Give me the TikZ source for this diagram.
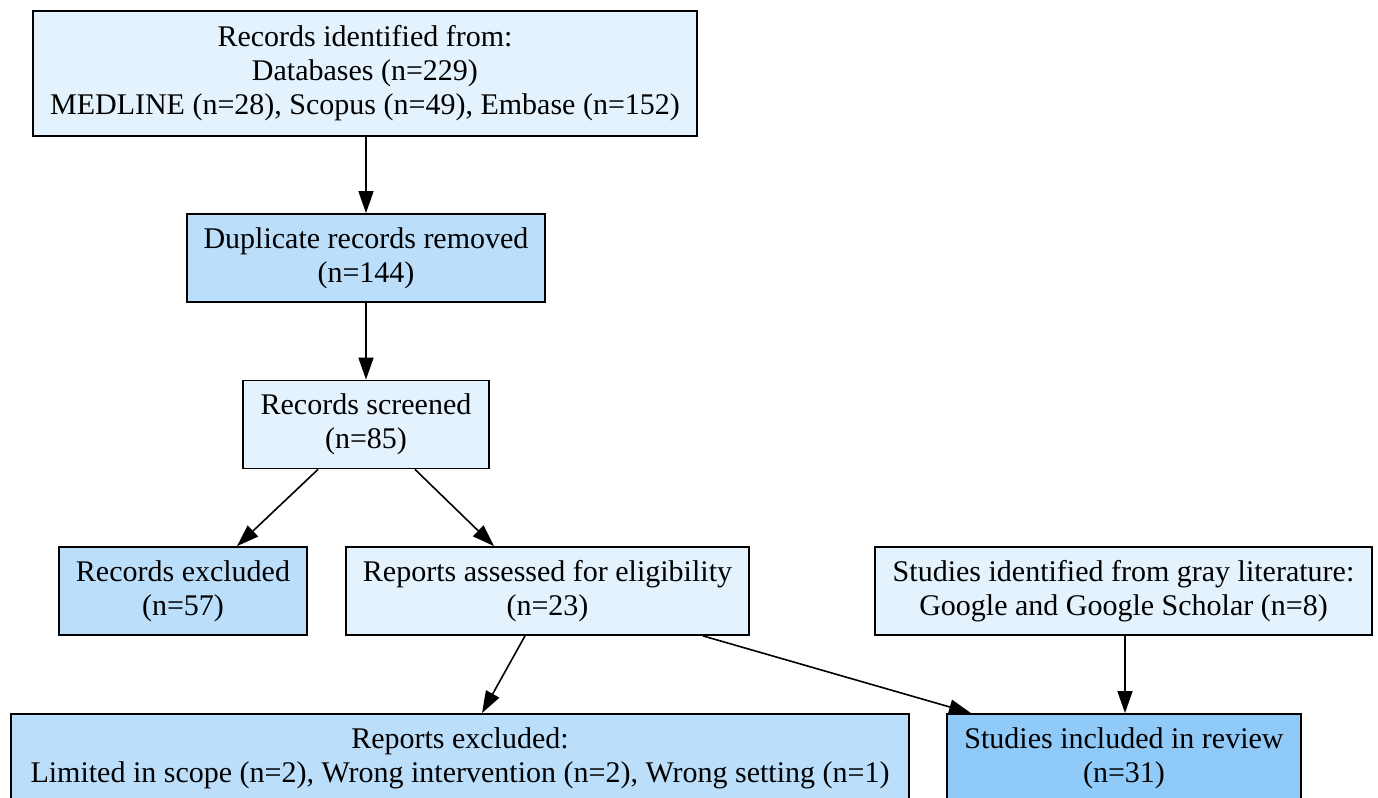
\documentclass[tikz,border=0pt]{standalone}
\usepackage{fontspec}
\setmainfont{Liberation Serif}
\usetikzlibrary{arrows.meta}

\definecolor{boxlight}{HTML}{E3F2FD}
\definecolor{boxmid}{HTML}{BBDEFB}
\definecolor{boxdark}{HTML}{90CAF9}

\begin{document}
\begin{tikzpicture}[x=0.5pt, y=-0.5pt]
\tikzset{
   >={Triangle[length=11pt, width=7.5pt]},
   box/.style = {rectangle, draw, line width = 0.9pt, align = center, inner sep = 0pt,
                 minimum height = 44pt, font = \fontsize{15}{17}\selectfont},
   box_light/.style = {box, fill = boxlight},
   box_mid/.style = {box, fill = boxmid},
   box_dark/.style = {box, fill = boxdark},
   link/.style = {->, line width = 0.8pt}
 }
  \useasboundingbox (0,0) rectangle (1378,798);

  \node [box_light, minimum width = 332pt, minimum height = 62.5pt] (identified) at (365,73.5)
        {Records identified from:\\Databases (n=229)\\MEDLINE (n=28), Scopus (n=49), Embase (n=152)};
  \node [box_mid, minimum width = 179pt] (duplicates) at (366,258)
        {Duplicate records removed\\(n=144)};
  \node [box_light, minimum width = 123pt] (screened) at (366,424.5)
        {Records screened\\(n=85)};

  \node [box_mid, minimum width = 124pt] (rec_excluded) at (183,591)
        {Records excluded\\(n=57)};
  \node [box_light, minimum width = 201.5pt] (assessed) at (547.5,591)
        {Reports assessed for eligibility\\(n=23)};
  \node [box_light, minimum width = 248.5pt] (gray) at (1123.5,591)
        {Studies identified from gray literature:\\Google and Google Scholar (n=8)};

  \node [box_mid, minimum width = 449pt] (rep_excluded) at (460,758)
        {Reports excluded:\\Limited in scope (n=2), Wrong intervention (n=2), Wrong setting (n=1)};
  \node [box_dark, minimum width = 177pt] (included) at (1124,758)
        {Studies included in review\\(n=31)};

  \draw [link] (duplicates.north |- identified.south) -- (duplicates);
  \draw [link] (duplicates) -- (screened);
  \draw [link] ([xshift=-24pt]screened.south) -- ([xshift=27pt]rec_excluded.north);
  \draw [link] ([xshift=24.5pt]screened.south) -- ([xshift=-26.75pt]assessed.north);
  \draw [link] ([xshift=-11.25pt]assessed.south) -- ([xshift=11pt]rep_excluded.north);
  \draw [link] ([xshift=77.75pt]assessed.south) -- ([xshift=-76.5pt]included.north);
  \draw [link] ([xshift=0.5pt]included.north |- gray.south) -- ([xshift=0.5pt]included.north);

\end{tikzpicture}
\end{document}
